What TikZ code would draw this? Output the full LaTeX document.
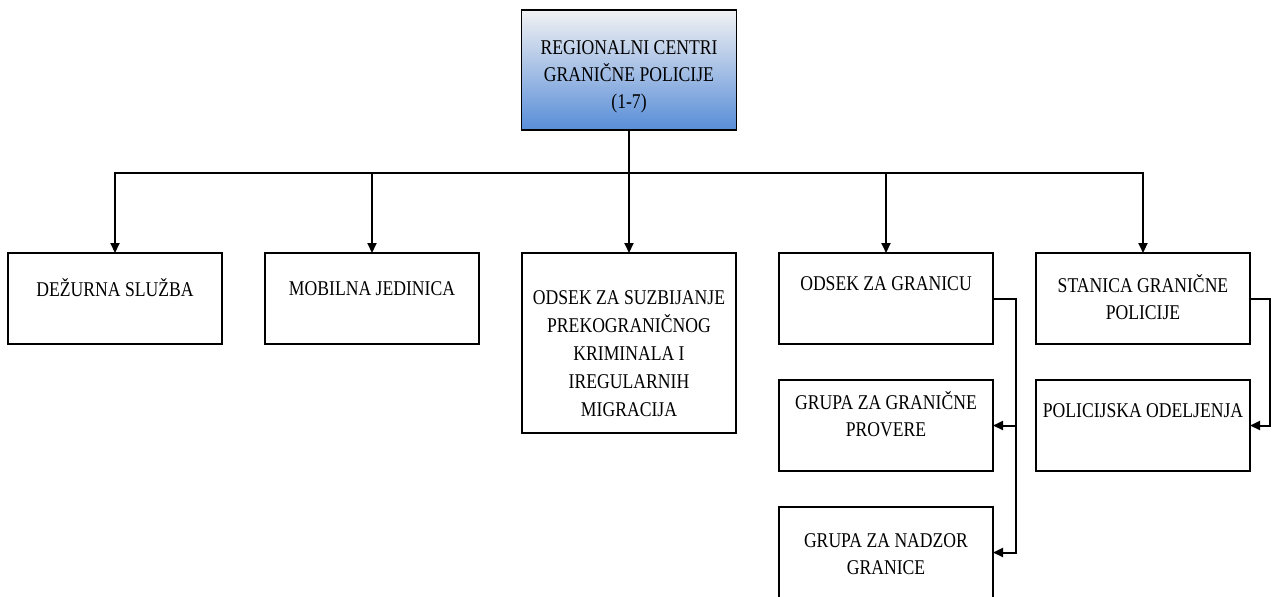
\documentclass[tikz,border=0pt]{standalone}
\usepackage{fontspec}
\setmainfont{Liberation Serif}[FakeStretch=0.84]
\usetikzlibrary{arrows.meta,positioning}

\begin{document}
\begin{tikzpicture}[x=0.5pt,y=-0.5pt]
\tikzstyle{every node}=[font=\fontsize{10.5}{13.5}\selectfont]
\tikzstyle{unit}=[draw, line width=0.7pt, minimum width=107pt, minimum height=45.5pt, inner sep=0pt, outer sep=0pt]
\tikzstyle{caption}=[align=center, inner sep=0pt]
\tikzstyle{link}=[line width=1pt, -{Triangle[width=4.5pt,length=5pt]}]
\useasboundingbox (0,0) rectangle (1273,596);
\node [unit, minimum width=107.5pt, minimum height=60pt, top color=blue!4!gray!10, bottom color={rgb,255:red,88;green,141;blue,216}] (RC) at (629,70) {};
\node [unit, anchor=north west] (DEZ) at (8,253) {};
\node [unit, right=21.5pt of DEZ.north east, anchor=north west] (MOB) {};
\node [unit, minimum height=90pt, right=21.5pt of MOB.north east, anchor=north west] (SUZ) {};
\node [unit, right=21.5pt of SUZ.north east, anchor=north west] (ODG) {};
\node [unit, right=21.5pt of ODG.north east, anchor=north west] (SGP) {};
\node [unit, below=18pt of ODG] (GGP) {};
\node [unit, below=18pt of GGP] (GNG) {};
\node [unit, below=18pt of SGP] (POD) {};
\node [caption, below=15pt of RC.north] (tRC) {REGIONALNI CENTRI\\GRANIČNE POLICIJE\\(1-7)};
\node [caption, below=12.5pt of DEZ.north] (tDEZ) {DEŽURNA SLUŽBA};
\node [caption, below=14pt of MOB.north] (tMOB) {MOBILNA JEDINICA};
\node [caption, below=18.5pt of SUZ.north, font=\fontsize{10.5}{14}\selectfont] (tSUZ) {ODSEK ZA SUZBIJANJE\\PREKOGRANIČNOG\\KRIMINALA I\\IREGULARNIH\\MIGRACIJA};
\node [caption, below=11.5pt of ODG.north] (tODG) {ODSEK ZA GRANICU};
\node [caption, below=10.5pt of SGP.north] (tSGP) {STANICA GRANIČNE\\POLICIJE};
\node [caption, below=5.5pt of GGP.north] (tGGP) {GRUPA ZA GRANIČNE\\PROVERE};
\node [caption, below=11.5pt of POD.north] (tPOD) {POLICIJSKA ODELJENJA};
\node [caption, below=13pt of GNG.north] (tGNG) {GRUPA ZA NADZOR\\GRANICE};
\draw [line width=1pt] (RC.south) -- ++(0,43) coordinate (hub);
\foreach \n in {DEZ,MOB,SUZ,ODG,SGP}
  \draw [link] (hub) -| (\n.north);
\draw [link] (ODG.east) -- ++(23,0) |- (GGP.east);
\draw [link] (ODG.east) -- ++(23,0) |- (GNG.east);
\draw [link] (SGP.east) -- ++(20,0) |- (POD.east);
\end{tikzpicture}
\end{document}
